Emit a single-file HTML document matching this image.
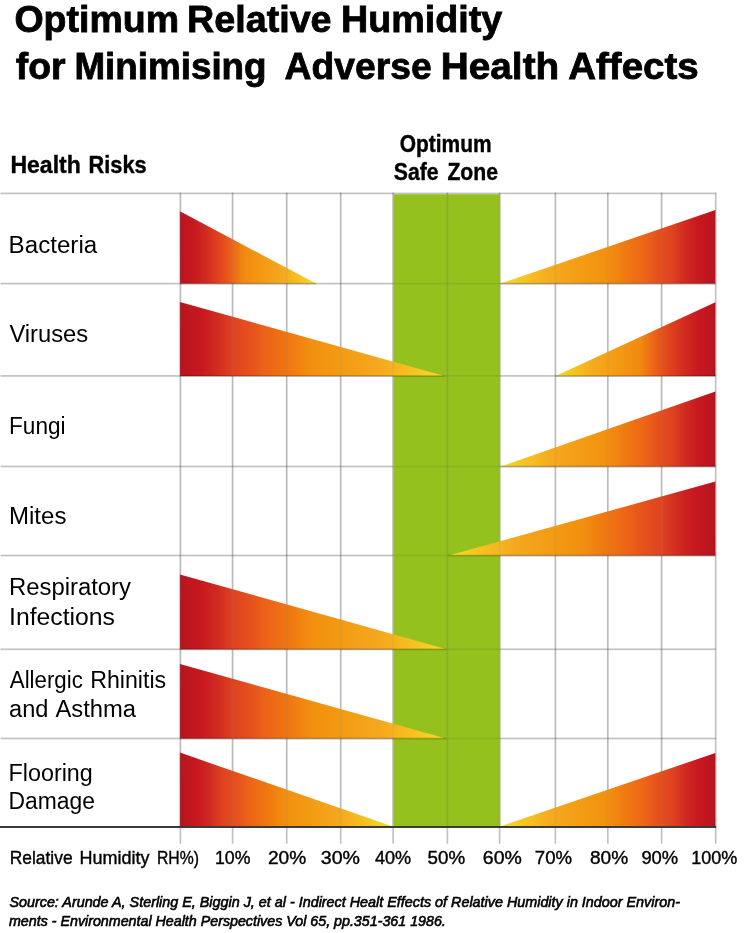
<!DOCTYPE html>
<html><head><meta charset="utf-8"><style>
html,body{margin:0;padding:0;background:#fff;width:750px;height:933px;overflow:hidden}
svg{display:block;will-change:transform}
text{font-family:"Liberation Sans",sans-serif;fill:#000}
</style></head><body>
<svg width="750" height="933" viewBox="0 0 750 933">
<defs><linearGradient id="gL" x1="0" y1="0" x2="1" y2="0"><stop offset="0.000" stop-color="#b3161f"/><stop offset="0.040" stop-color="#c0161f"/><stop offset="0.100" stop-color="#c8181f"/><stop offset="0.190" stop-color="#d02a20"/><stop offset="0.260" stop-color="#dc3c1e"/><stop offset="0.330" stop-color="#e6501c"/><stop offset="0.380" stop-color="#ec6218"/><stop offset="0.470" stop-color="#f08a10"/><stop offset="0.600" stop-color="#f39a12"/><stop offset="0.750" stop-color="#f5a81e"/><stop offset="0.870" stop-color="#f6c020"/><stop offset="1.000" stop-color="#f5dc28"/></linearGradient><linearGradient id="gR" x1="0" y1="0" x2="1" y2="0"><stop offset="0.000" stop-color="#f5dc28"/><stop offset="0.130" stop-color="#f6c020"/><stop offset="0.250" stop-color="#f5a81e"/><stop offset="0.400" stop-color="#f39a12"/><stop offset="0.530" stop-color="#f08a10"/><stop offset="0.620" stop-color="#ec6218"/><stop offset="0.670" stop-color="#e6501c"/><stop offset="0.740" stop-color="#dc3c1e"/><stop offset="0.810" stop-color="#d02a20"/><stop offset="0.900" stop-color="#c8181f"/><stop offset="0.960" stop-color="#c0161f"/><stop offset="1.000" stop-color="#b3161f"/></linearGradient><linearGradient id="gLl" x1="0" y1="0" x2="1" y2="0"><stop offset="0.000" stop-color="#b3161f"/><stop offset="0.040" stop-color="#c0161f"/><stop offset="0.080" stop-color="#c8181f"/><stop offset="0.140" stop-color="#d02a20"/><stop offset="0.200" stop-color="#de4220"/><stop offset="0.270" stop-color="#e6521c"/><stop offset="0.320" stop-color="#ec6218"/><stop offset="0.420" stop-color="#f07a10"/><stop offset="0.500" stop-color="#f29010"/><stop offset="0.600" stop-color="#f39a12"/><stop offset="0.750" stop-color="#f5a81e"/><stop offset="0.870" stop-color="#f6c020"/><stop offset="1.000" stop-color="#f5dc28"/></linearGradient><linearGradient id="gRl" x1="0" y1="0" x2="1" y2="0"><stop offset="0.000" stop-color="#f5dc28"/><stop offset="0.130" stop-color="#f6c020"/><stop offset="0.250" stop-color="#f5a81e"/><stop offset="0.400" stop-color="#f39a12"/><stop offset="0.500" stop-color="#f29010"/><stop offset="0.580" stop-color="#f07a10"/><stop offset="0.680" stop-color="#ec6218"/><stop offset="0.730" stop-color="#e6521c"/><stop offset="0.800" stop-color="#de4220"/><stop offset="0.860" stop-color="#d02a20"/><stop offset="0.920" stop-color="#c8181f"/><stop offset="0.960" stop-color="#c0161f"/><stop offset="1.000" stop-color="#b3161f"/></linearGradient></defs>
<g fill="#000" fill-opacity="0.24"><rect x="0.5" y="192.55" width="715.2" height="1.7"/><rect x="0.5" y="282.75" width="715.2" height="1.7"/><rect x="0.5" y="375.05" width="715.2" height="1.7"/><rect x="0.5" y="465.65" width="715.2" height="1.7"/><rect x="0.5" y="554.65" width="715.2" height="1.7"/><rect x="0.5" y="648.45" width="715.2" height="1.7"/><rect x="0.5" y="737.65" width="715.2" height="1.7"/><rect x="179.55" y="192.55" width="1.7" height="651.15"/><rect x="231.75" y="192.55" width="1.7" height="651.15"/><rect x="285.85" y="192.55" width="1.7" height="651.15"/><rect x="339.85" y="192.55" width="1.7" height="651.15"/><rect x="392.25" y="192.55" width="1.7" height="651.15"/><rect x="446.55" y="192.55" width="1.7" height="651.15"/><rect x="498.75" y="192.55" width="1.7" height="651.15"/><rect x="554.55" y="192.55" width="1.7" height="651.15"/><rect x="606.95" y="192.55" width="1.7" height="651.15"/><rect x="660.75" y="192.55" width="1.7" height="651.15"/><rect x="714.85" y="192.55" width="1.7" height="651.15"/></g><rect x="393.5" y="194.2" width="106.7" height="632.0" fill="#95c11f"/><g fill="#000" fill-opacity="0.07"><rect x="393.5" y="282.75" width="106.7" height="1.7"/><rect x="393.5" y="375.05" width="106.7" height="1.7"/><rect x="393.5" y="465.65" width="106.7" height="1.7"/><rect x="393.5" y="554.65" width="106.7" height="1.7"/><rect x="393.5" y="648.45" width="106.7" height="1.7"/><rect x="393.5" y="737.65" width="106.7" height="1.7"/><rect x="446.55" y="193.4" width="1.7" height="632.6"/></g><polygon points="179.9,211.2 316.0,283.6 179.9,283.6" fill="url(#gL)"/><polygon points="500.5,283.6 715.4,210.0 715.4,283.6" fill="url(#gRl)"/><polygon points="179.9,302.0 444.5,375.9 179.9,375.9" fill="url(#gLl)"/><polygon points="555.5,375.9 715.4,302.2 715.4,375.9" fill="url(#gR)"/><polygon points="500.5,466.5 715.4,391.6 715.4,466.5" fill="url(#gRl)"/><polygon points="448.5,555.5 715.4,481.6 715.4,555.5" fill="url(#gRl)"/><polygon points="179.9,574.5 446.5,649.3 179.9,649.3" fill="url(#gLl)"/><polygon points="179.9,664.0 446.0,738.5 179.9,738.5" fill="url(#gLl)"/><polygon points="179.9,752.6 392.0,826.3 179.9,826.3" fill="url(#gLl)"/><polygon points="500.5,826.3 715.4,753.0 715.4,826.3" fill="url(#gRl)"/><g fill="#000" fill-opacity="0.2"><rect x="179.9" y="282.75" width="136.1" height="1.7"/><rect x="500.5" y="282.75" width="214.9" height="1.7"/><rect x="179.9" y="375.05" width="264.6" height="1.7"/><rect x="555.5" y="375.05" width="159.9" height="1.7"/><rect x="500.5" y="465.65" width="214.9" height="1.7"/><rect x="448.5" y="554.65" width="266.9" height="1.7"/><rect x="179.9" y="648.45" width="266.6" height="1.7"/><rect x="179.9" y="737.65" width="266.1" height="1.7"/></g><g fill="#888" fill-opacity="0.13"><rect x="179.55" y="193.4" width="1.7" height="632.6"/><rect x="231.75" y="193.4" width="1.7" height="632.6"/><rect x="285.85" y="193.4" width="1.7" height="632.6"/><rect x="339.85" y="193.4" width="1.7" height="632.6"/><rect x="392.25" y="193.4" width="1.7" height="632.6"/><rect x="446.55" y="193.4" width="1.7" height="632.6"/><rect x="498.75" y="193.4" width="1.7" height="632.6"/><rect x="554.55" y="193.4" width="1.7" height="632.6"/><rect x="606.95" y="193.4" width="1.7" height="632.6"/><rect x="660.75" y="193.4" width="1.7" height="632.6"/></g><rect x="0" y="826.05" width="716.2" height="1.9" fill="#333"/>
<text x="14.4" y="32.3" font-size="37" font-weight="bold" stroke="#000" stroke-width="0.8" textLength="164.6" lengthAdjust="spacingAndGlyphs">Optimum</text><text x="187.0" y="32.3" font-size="37" font-weight="bold" stroke="#000" stroke-width="0.8" textLength="144.6" lengthAdjust="spacingAndGlyphs">Relative</text><text x="341" y="32.3" font-size="37" font-weight="bold" stroke="#000" stroke-width="0.8" textLength="161.2" lengthAdjust="spacingAndGlyphs">Humidity</text><text x="15.8" y="78.7" font-size="37" font-weight="bold" stroke="#000" stroke-width="0.8" textLength="49.8" lengthAdjust="spacingAndGlyphs">for</text><text x="74.4" y="78.7" font-size="37" font-weight="bold" stroke="#000" stroke-width="0.8" textLength="192.2" lengthAdjust="spacingAndGlyphs">Minimising</text><text x="284.6" y="78.7" font-size="37" font-weight="bold" stroke="#000" stroke-width="0.8" textLength="147.0" lengthAdjust="spacingAndGlyphs">Adverse</text><text x="440.8" y="78.7" font-size="37" font-weight="bold" stroke="#000" stroke-width="0.8" textLength="118.4" lengthAdjust="spacingAndGlyphs">Health</text><text x="568.2" y="78.7" font-size="37" font-weight="bold" stroke="#000" stroke-width="0.8" textLength="130.6" lengthAdjust="spacingAndGlyphs">Affects</text><text x="10.4" y="172.7" font-size="24.1" font-weight="bold" stroke="#000" stroke-width="0.4" textLength="70.4" lengthAdjust="spacingAndGlyphs">Health</text><text x="88.6" y="172.7" font-size="24.1" font-weight="bold" stroke="#000" stroke-width="0.4" textLength="58.0" lengthAdjust="spacingAndGlyphs">Risks</text><text x="399.8" y="151.7" font-size="23.4" font-weight="bold" stroke="#000" stroke-width="0.4" textLength="91.8" lengthAdjust="spacingAndGlyphs">Optimum</text><text x="393.8" y="180.3" font-size="23.4" font-weight="bold" stroke="#000" stroke-width="0.4" textLength="44.8" lengthAdjust="spacingAndGlyphs">Safe</text><text x="447.4" y="180.3" font-size="23.4" font-weight="bold" stroke="#000" stroke-width="0.4" textLength="50.6" lengthAdjust="spacingAndGlyphs">Zone</text><text x="8.6" y="252.5" font-size="24.7" textLength="88.6" lengthAdjust="spacingAndGlyphs">Bacteria</text><text x="9.4" y="341.8" font-size="24.7" textLength="78.8" lengthAdjust="spacingAndGlyphs">Viruses</text><text x="9" y="433.9" font-size="24.7" textLength="56.6" lengthAdjust="spacingAndGlyphs">Fungi</text><text x="9" y="524.3" font-size="24.7" textLength="57.4" lengthAdjust="spacingAndGlyphs">Mites</text><text x="9" y="595.2" font-size="24.7" textLength="122" lengthAdjust="spacingAndGlyphs">Respiratory</text><text x="9" y="624.5" font-size="24.7" textLength="106" lengthAdjust="spacingAndGlyphs">Infections</text><text x="9.8" y="688.1" font-size="24.7" textLength="73.0" lengthAdjust="spacingAndGlyphs">Allergic</text><text x="90.2" y="688.1" font-size="24.7" textLength="76.0" lengthAdjust="spacingAndGlyphs">Rhinitis</text><text x="9.0" y="717.0" font-size="24.7" textLength="39.4" lengthAdjust="spacingAndGlyphs">and</text><text x="55.4" y="717.0" font-size="24.7" textLength="80.6" lengthAdjust="spacingAndGlyphs">Asthma</text><text x="8.6" y="780.6" font-size="24.7" textLength="84.2" lengthAdjust="spacingAndGlyphs">Flooring</text><text x="8.6" y="808.7" font-size="24.7" textLength="86.4" lengthAdjust="spacingAndGlyphs">Damage</text><text x="9.8" y="863.7" font-size="19.0" stroke="#000" stroke-width="0.4" textLength="62.8" lengthAdjust="spacingAndGlyphs">Relative</text><text x="79.4" y="863.7" font-size="19.0" stroke="#000" stroke-width="0.4" textLength="70.0" lengthAdjust="spacingAndGlyphs">Humidity</text><text x="157" y="863.7" font-size="19.0" stroke="#000" stroke-width="0.4" textLength="42" lengthAdjust="spacingAndGlyphs">RH%)</text><text x="215" y="863.7" font-size="19.0" stroke="#000" stroke-width="0.4" textLength="35.4" lengthAdjust="spacingAndGlyphs">10%</text><text x="268.0" y="863.7" font-size="19.0" stroke="#000" stroke-width="0.4" textLength="38.2" lengthAdjust="spacingAndGlyphs">20%</text><text x="320.8" y="863.7" font-size="19.0" stroke="#000" stroke-width="0.4" textLength="39.2" lengthAdjust="spacingAndGlyphs">30%</text><text x="375" y="863.7" font-size="19.0" stroke="#000" stroke-width="0.4" textLength="36.2" lengthAdjust="spacingAndGlyphs">40%</text><text x="427.6" y="863.7" font-size="19.0" stroke="#000" stroke-width="0.4" textLength="37.6" lengthAdjust="spacingAndGlyphs">50%</text><text x="482.8" y="863.7" font-size="19.0" stroke="#000" stroke-width="0.4" textLength="39.0" lengthAdjust="spacingAndGlyphs">60%</text><text x="534.8" y="863.7" font-size="19.0" stroke="#000" stroke-width="0.4" textLength="37.2" lengthAdjust="spacingAndGlyphs">70%</text><text x="590.0" y="863.7" font-size="19.0" stroke="#000" stroke-width="0.4" textLength="38.2" lengthAdjust="spacingAndGlyphs">80%</text><text x="641.4" y="863.7" font-size="19.0" stroke="#000" stroke-width="0.4" textLength="36.8" lengthAdjust="spacingAndGlyphs">90%</text><text x="691.2" y="863.7" font-size="19.0" stroke="#000" stroke-width="0.4" textLength="46.2" lengthAdjust="spacingAndGlyphs">100%</text><text x="9.4" y="907.1" font-size="14.5" font-style="italic" stroke="#000" stroke-width="0.6" textLength="670.6" lengthAdjust="spacingAndGlyphs">Source: Arunde A, Sterling E, Biggin J, et al - Indirect Healt Effects of Relative Humidity in Indoor Environ-</text><text x="9" y="925.7" font-size="14.5" font-style="italic" stroke="#000" stroke-width="0.6" textLength="436.8" lengthAdjust="spacingAndGlyphs">ments - Environmental Health Perspectives Vol 65, pp.351-361 1986.</text>
</svg>
</body></html>
